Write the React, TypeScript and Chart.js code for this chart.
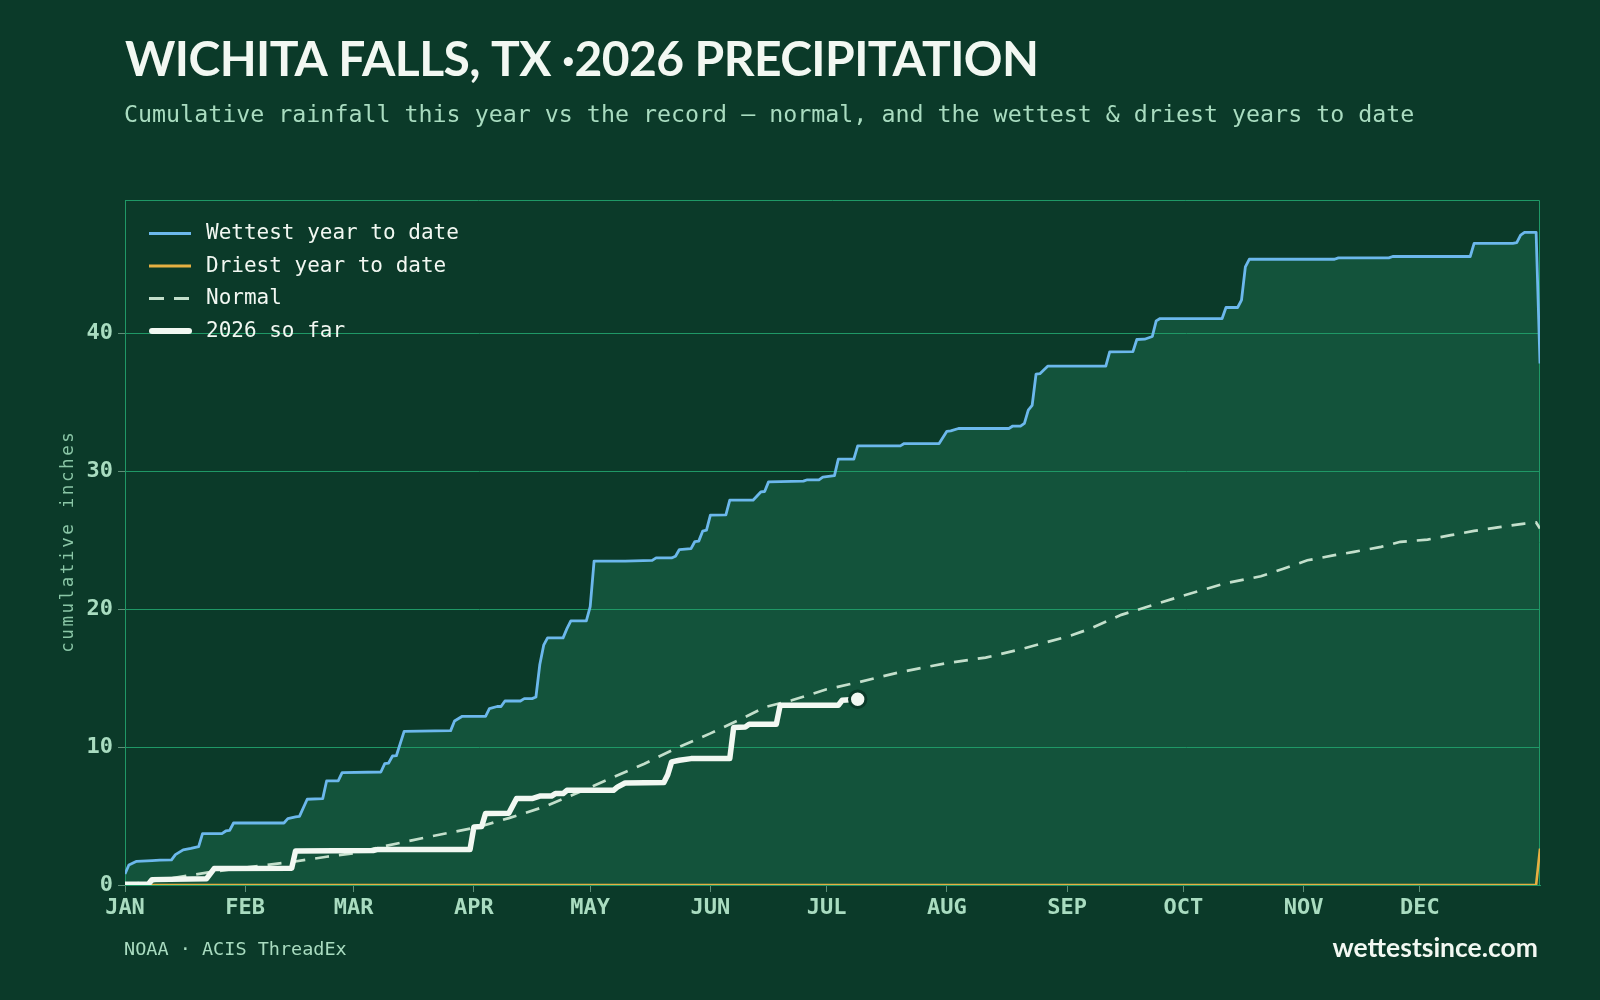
import React, { useEffect, useRef } from "react";
import { Chart, registerables } from "chart.js";

Chart.register(...registerables);

// ---------- data ----------
const monthLabels = ["JAN", "FEB", "MAR", "APR", "MAY", "JUN", "JUL", "AUG", "SEP", "OCT", "NOV", "DEC"];
const monthStartDays = [0, 31, 59, 90, 120, 151, 181, 212, 243, 273, 304, 334];
const yTickValues = [0, 10, 20, 30, 40];

const wettestDays = [
  0, 1, 3, 7, 9, 12, 13, 15, 17, 19, 20, 25, 26, 27, 28, 41, 42, 44, 45, 47, 51, 52, 55, 56, 66, 67, 68, 69, 70, 72,
  84, 85, 87, 93, 94, 96, 97, 98, 102, 103, 105, 106, 107, 108, 109, 113, 114, 115, 119, 120, 121, 129, 136, 137, 141,
  142, 143, 146, 147, 148, 149, 150, 151, 155, 156, 162, 164, 165, 166, 175, 176, 179, 180, 183, 184, 188, 189, 200,
  201, 210, 212, 213, 215, 228, 229, 231, 232, 233, 234, 235, 236, 238, 253, 254, 260, 261, 263, 265, 266, 267, 283,
  284, 287, 288, 289, 290, 312, 313, 326, 327, 347, 348, 358, 359, 360, 361, 364, 365,
];
const wettestInches = [
  0.8, 1.45, 1.72, 1.77, 1.8, 1.82, 2.2, 2.55, 2.65, 2.78, 3.73, 3.73, 3.92, 3.97, 4.5, 4.5, 4.82, 4.94, 4.98, 6.22,
  6.27, 7.55, 7.55, 8.15, 8.2, 8.8, 8.85, 9.36, 9.38, 11.15, 11.2, 11.9, 12.24, 12.24, 12.8, 12.95, 12.95, 13.35, 13.35,
  13.52, 13.52, 13.64, 16.0, 17.4, 17.93, 17.93, 18.6, 19.16, 19.16, 20.2, 23.5, 23.5, 23.55, 23.73, 23.73, 23.85,
  24.34, 24.4, 24.92, 24.95, 25.67, 25.75, 26.83, 26.85, 27.92, 27.92, 28.52, 28.55, 29.25, 29.3, 29.4, 29.4, 29.6,
  29.7, 30.9, 30.9, 31.86, 31.86, 32.03, 32.03, 32.92, 32.95, 33.12, 33.12, 33.3, 33.3, 33.5, 34.45, 34.8, 37.06,
  37.1, 37.64, 37.64, 38.68, 38.7, 39.58, 39.6, 39.8, 40.93, 41.1, 41.1, 41.9, 41.9, 42.43, 44.85, 45.4, 45.4, 45.5,
  45.5, 45.6, 45.6, 46.55, 46.55, 46.6, 47.15, 47.35, 47.35, 37.84,
];

const driestDays = [0, 364, 365];
const driestInches = [0, 0, 2.64];

const normalDays = [
  0, 10, 22, 32, 43, 52, 59, 65, 74, 82, 91, 99, 108, 116, 125, 134, 142, 151, 159, 165, 172, 181, 189, 200, 212, 222,
  231, 244, 249, 257, 265, 273, 284, 293, 299, 305, 312, 317, 324, 329, 336, 342, 348, 355, 361, 364, 365,
];
const normalInches = [
  0.0, 0.4, 0.94, 1.3, 1.67, 2.05, 2.3, 2.7, 3.24, 3.7, 4.2, 4.85, 5.66, 6.6, 7.7, 8.8, 9.9, 11.0, 12.05, 12.9, 13.4,
  14.2, 14.7, 15.45, 16.1, 16.5, 17.1, 18.1, 18.6, 19.6, 20.3, 21.0, 21.9, 22.4, 22.96, 23.56, 23.93, 24.17, 24.53,
  24.9, 25.06, 25.38, 25.69, 25.98, 26.22, 26.3, 25.86,
];

const ytdDays = [
  0, 6, 7, 21, 23, 43, 44, 64, 65, 89, 90, 92, 93, 99, 101, 105, 107, 110, 111, 113, 114, 126, 127, 129, 139, 140, 141,
  143, 146, 156, 157, 160, 161, 168, 169, 184, 185, 189,
];
const ytdInches = [
  0.05, 0.05, 0.39, 0.45, 1.19, 1.22, 2.47, 2.5, 2.57, 2.57, 4.21, 4.25, 5.18, 5.2, 6.27, 6.27, 6.45, 6.45, 6.63, 6.63,
  6.87, 6.87, 7.1, 7.4, 7.44, 8.0, 8.93, 9.05, 9.17, 9.17, 11.42, 11.47, 11.66, 11.66, 13.04, 13.04, 13.4, 13.48,
];

const legendLabels = ["Wettest year to date", "Driest year to date", "Normal", "2026 so far"];

const TITLE = "WICHITA FALLS, TX \u00b72026 PRECIPITATION";
const SUBTITLE = "Cumulative rainfall this year vs the record \u2014 normal, and the wettest & driest years to date";
const SOURCE = "NOAA \u00b7 ACIS ThreadEx";
const BRAND = "wettestsince.com";
const Y_TITLE = "cumulative inches";

// ---------- styles ----------
const BG = "#0b3a29";
const FILL = "#13533b";
const GRID = "#1f9866";
const TICK_MARK = "#5f8f78";
const MINT = "#a9dcc0";
const MINT_DIM = "#8ac6a6";
const WHITE = "#f2f8f2";
const BLUE = "#6cb8ec";
const GOLD = "#e6b042";
const NORMAL = "#c3dfcb";
const MONO = "'DejaVu Sans Mono', monospace";
const SANS = "Lato, 'Open Sans', sans-serif";

const toPoints = (xs: number[], ys: number[]) => xs.map((x, i) => ({ x, y: ys[i] }));

const decorPlugin = {
  id: "decor",
  beforeDatasetsDraw(chart: any) {
    const { ctx, chartArea: a } = chart;
    ctx.save();
    ctx.strokeStyle = GRID;
    ctx.lineWidth = 1;
    ctx.beginPath();
    ctx.moveTo(a.left, Math.round(a.top) + 0.5);
    ctx.lineTo(Math.round(a.right) - 0.5, Math.round(a.top) + 0.5);
    ctx.lineTo(Math.round(a.right) - 0.5, a.bottom);
    ctx.stroke();
    ctx.restore();
  },
  afterDatasetsDraw(chart: any) {
    const { ctx } = chart;
    ctx.save();
    const x0 = 150;
    const x1 = 190;
    const rows = [233.5, 266, 298.5, 331];
    rows.forEach((y, i) => {
      ctx.save();
      ctx.beginPath();
      if (i === 0) {
        ctx.strokeStyle = BLUE;
        ctx.lineWidth = 3;
      } else if (i === 1) {
        ctx.strokeStyle = GOLD;
        ctx.lineWidth = 3;
      } else if (i === 2) {
        ctx.strokeStyle = NORMAL;
        ctx.lineWidth = 3;
        ctx.setLineDash([15, 10]);
      } else {
        ctx.strokeStyle = WHITE;
        ctx.lineWidth = 6;
        ctx.lineCap = "round";
      }
      ctx.moveTo(i === 3 ? x0 + 2 : x0 - 1, y);
      ctx.lineTo(i === 3 ? x1 - 1 : x1 + 1, y);
      ctx.stroke();
      ctx.restore();
      ctx.fillStyle = WHITE;
      ctx.font = `21px ${MONO}`;
      ctx.textAlign = "left";
      ctx.textBaseline = "middle";
      ctx.fillText(legendLabels[i], 206, y + 0.5);
    });
    ctx.restore();
  },
  afterDraw(chart: any) {
    const { ctx, chartArea: a } = chart;
    ctx.save();
    // title
    ctx.textAlign = "left";
    ctx.textBaseline = "alphabetic";
    ctx.fillStyle = WHITE;
    ctx.font = `bold 48px ${SANS}`;
    (ctx as any).letterSpacing = "0px";
    const w = ctx.measureText(TITLE).width;
    let ls = (914 - w) / (TITLE.length - 1);
    ls = Math.max(-3, Math.min(3, ls));
    (ctx as any).letterSpacing = `${ls}px`;
    ctx.fillText(TITLE, 125, 76);
    (ctx as any).letterSpacing = "0px";
    // subtitle
    ctx.fillStyle = MINT;
    ctx.font = `23.3px ${MONO}`;
    ctx.fillText(SUBTITLE, 124, 121.5);
    // footer
    ctx.font = `18.5px ${MONO}`;
    ctx.fillStyle = MINT;
    ctx.fillText(SOURCE, 124, 955);
    ctx.textAlign = "right";
    ctx.fillStyle = WHITE;
    ctx.font = `bold 26.5px ${SANS}`;
    ctx.fillText(BRAND, 1538, 956.5);
    // y title
    ctx.save();
    ctx.translate(68, (a.top + a.bottom) / 2);
    ctx.rotate(-Math.PI / 2);
    ctx.textAlign = "center";
    ctx.textBaseline = "middle";
    ctx.fillStyle = MINT_DIM;
    ctx.font = `17.5px ${MONO}`;
    (ctx as any).letterSpacing = "2.6px";
    ctx.fillText(Y_TITLE, 1.3, 0);
    ctx.restore();
    ctx.restore();
  },
};

export default function App() {
  const canvasRef = useRef<HTMLCanvasElement | null>(null);

  useEffect(() => {
    const canvas = canvasRef.current;
    if (!canvas) return;
    const lastI = ytdDays.length - 1;
    const chart = new Chart(canvas, {
      type: "line",
      data: {
        datasets: [
          {
            label: "2026 today",
            data: [{ x: ytdDays[lastI], y: ytdInches[lastI] }],
            showLine: false,
            pointRadius: 8.2,
            pointHoverRadius: 8.2,
            pointBackgroundColor: WHITE,
            pointBorderColor: BG,
            pointBorderWidth: 3,
            order: 0,
          } as any,
          {
            label: legendLabels[3],
            data: toPoints(ytdDays, ytdInches),
            borderColor: WHITE,
            borderWidth: 5.5,
            borderCapStyle: "round",
            borderJoinStyle: "round",
            pointRadius: 0,
            fill: false,
            order: 1,
          },
          {
            label: legendLabels[2],
            data: toPoints(normalDays, normalInches),
            borderColor: NORMAL,
            borderWidth: 2.7,
            borderDash: [14, 10],
            pointRadius: 0,
            fill: false,
            order: 2,
          },
          {
            label: legendLabels[1],
            data: toPoints(driestDays, driestInches),
            borderColor: GOLD,
            borderWidth: 2.6,
            pointRadius: 0,
            fill: false,
            order: 3,
          },
          {
            label: legendLabels[0],
            data: toPoints(wettestDays, wettestInches),
            borderColor: BLUE,
            borderWidth: 2.8,
            borderJoinStyle: "round",
            backgroundColor: FILL,
            pointRadius: 0,
            fill: "origin",
            order: 4,
          },
        ],
      },
      options: {
        responsive: false,
        animation: false,
        devicePixelRatio: 1,
        layout: { padding: { left: 0, top: 200, right: 60, bottom: 75 } },
        plugins: {
          legend: { display: false },
          tooltip: { enabled: false },
          filler: { drawTime: "beforeDraw" } as any,
        },
        scales: {
          x: {
            type: "linear",
            min: 0,
            max: 365,
            afterBuildTicks: (scale: any) => {
              scale.ticks = monthStartDays.map((v) => ({ value: v }));
            },
            afterFit: (scale: any) => {
              scale.height = 40;
            },
            ticks: {
              autoSkip: false,
              maxRotation: 0,
              padding: 3,
              color: MINT,
              font: { family: MONO, weight: "bold", size: 22 },
              callback: (value: any) => {
                const i = monthStartDays.indexOf(Number(value));
                return i >= 0 ? monthLabels[i] : "";
              },
            },
            grid: { drawOnChartArea: false, drawTicks: true, tickLength: 7, tickColor: TICK_MARK, color: GRID },
            border: { color: GRID, width: 1 },
          },
          y: {
            type: "linear",
            min: 0,
            max: 49.7,
            afterBuildTicks: (scale: any) => {
              scale.ticks = yTickValues.map((v) => ({ value: v }));
            },
            afterFit: (scale: any) => {
              scale.width = 125;
            },
            ticks: {
              padding: 5,
              color: MINT,
              font: { family: MONO, weight: "bold", size: 22 },
            },
            grid: { color: GRID, lineWidth: 1, tickLength: 7, tickColor: TICK_MARK },
            border: { color: GRID, width: 1 },
          },
        },
      },
      plugins: [decorPlugin],
    });
    return () => chart.destroy();
  }, []);

  return (
    <div style={{ position: "fixed", left: 0, top: 0, width: 1600, height: 1000, background: BG, overflow: "hidden" }}>
      <canvas ref={canvasRef} width={1600} height={1000} style={{ display: "block", width: 1600, height: 1000 }} />
    </div>
  );
}
